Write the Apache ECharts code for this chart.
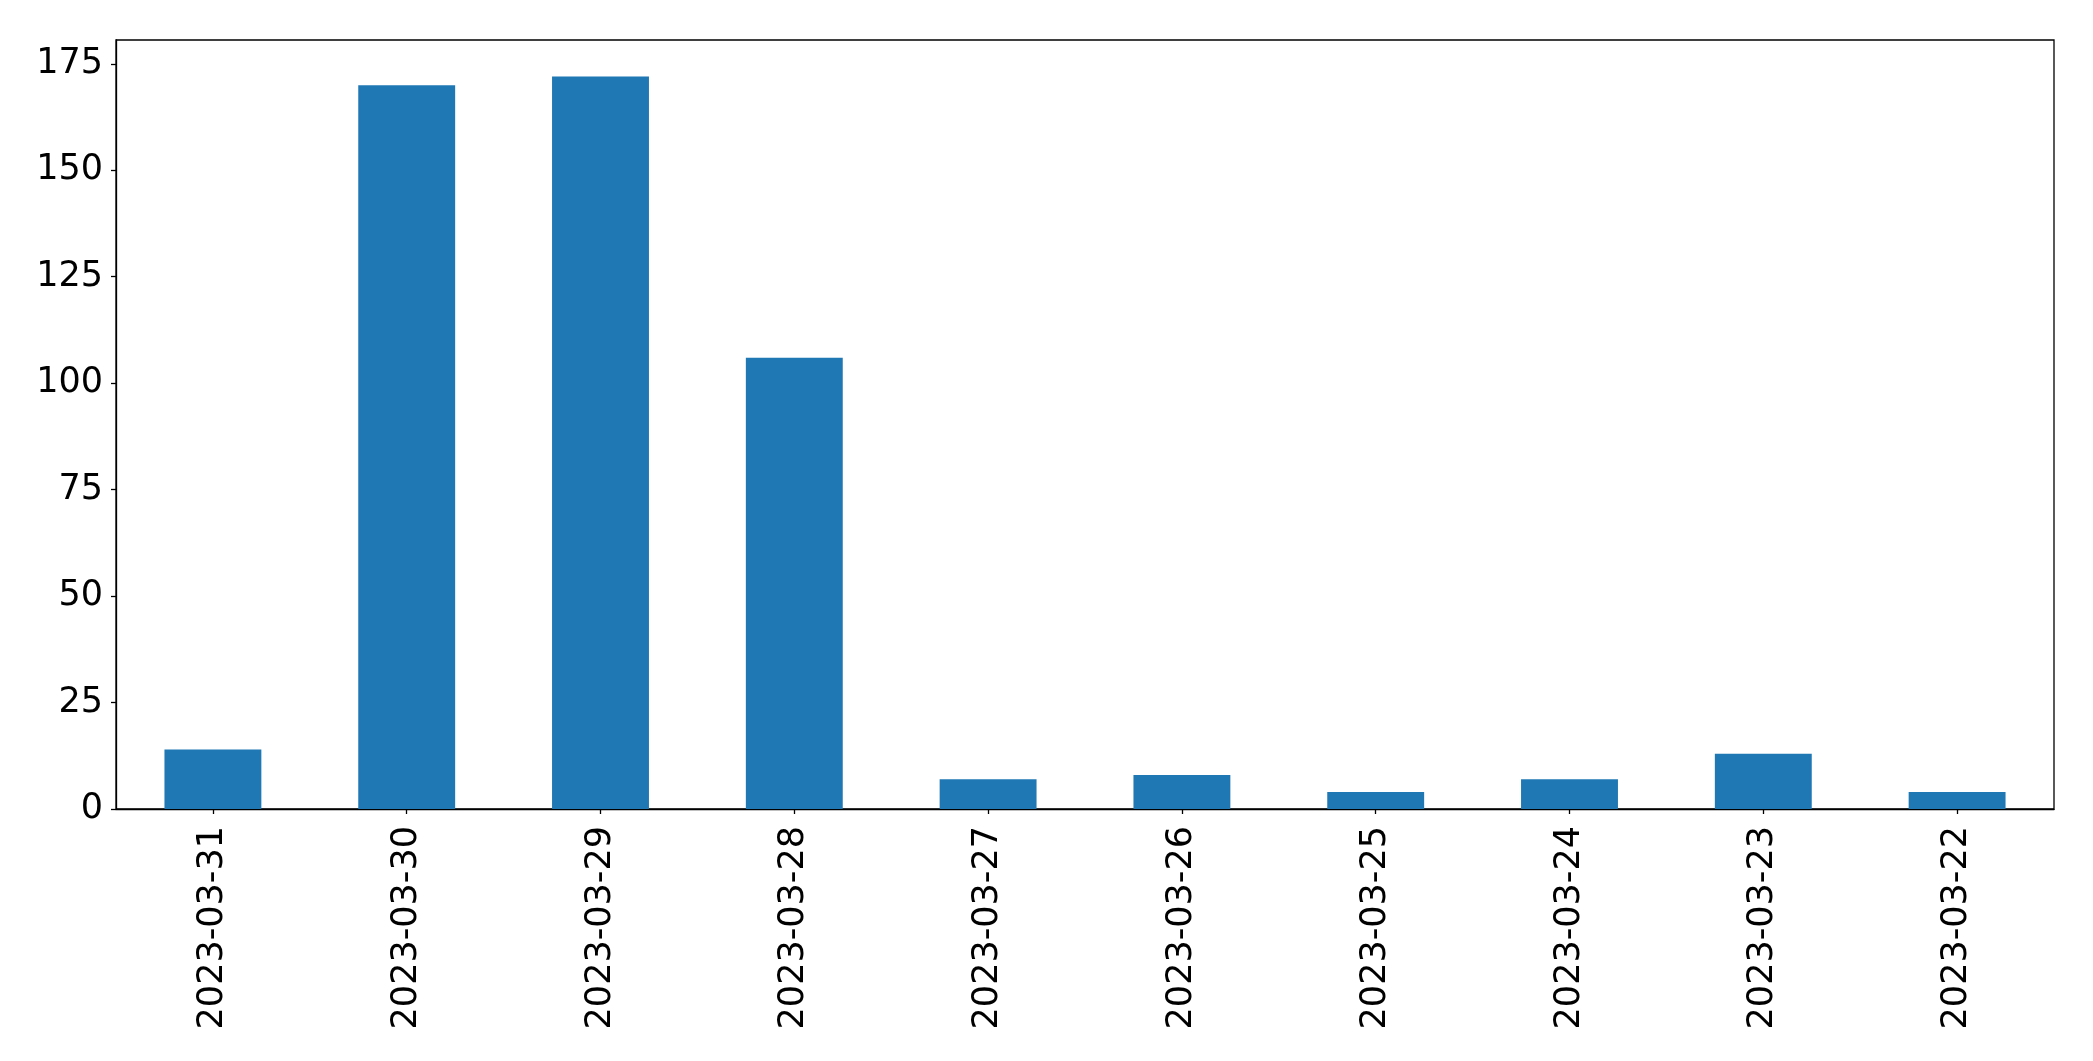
<!DOCTYPE html>
<html><head><meta charset="utf-8">
<script src="https://cdn.jsdelivr.net/npm/echarts@6/dist/echarts.min.js"></script>
<style>html,body{margin:0;padding:0;background:#fff}#c{width:2093px;height:1061px}</style>
</head><body><div id="c"></div>
<script>
const categories = ["2023-03-31","2023-03-30","2023-03-29","2023-03-28","2023-03-27","2023-03-26","2023-03-25","2023-03-24","2023-03-23","2023-03-22"];
const values = [14, 170, 172, 106, 7, 8, 4, 7, 13, 4];
const yTicks = [0, 25, 50, 75, 100, 125, 150, 175];

const chart = echarts.init(document.getElementById('c'), null, {renderer: 'canvas'});
chart.setOption({
  animation: false,
  backgroundColor: '#fff',
  textStyle: {fontFamily: 'DejaVu Sans'},
  grid: {left: 116, right: 39, top: 40, bottom: 252, show: true, borderColor: '#000', borderWidth: 1.3, backgroundColor: 'transparent'},
  xAxis: {
    type: 'category', data: categories,
    axisLine: {show: true, lineStyle: {color: '#000', width: 1.3}},
    axisTick: {show: true, alignWithLabel: true, length: 5, lineStyle: {color: '#000', width: 1.3}},
    axisLabel: {rotate: 90, color: '#000', fontSize: 35, fontFamily: 'DejaVu Sans', margin: 17, interval: 0},
    splitLine: {show: false}
  },
  yAxis: {
    type: 'value', min: 0, max: 180.6,
    axisLine: {show: true, lineStyle: {color: '#000', width: 1.3}},
    axisTick: {show: true, length: 5, customValues: yTicks, lineStyle: {color: '#000', width: 1.3}},
    axisLabel: {color: '#000', fontSize: 35, fontFamily: 'DejaVu Sans', margin: 13, customValues: yTicks},
    splitLine: {show: false}
  },
  series: [{
    type: 'bar', data: values, barWidth: '50%',
    itemStyle: {color: '#1f77b4'}
  }]
});
</script></body></html>
